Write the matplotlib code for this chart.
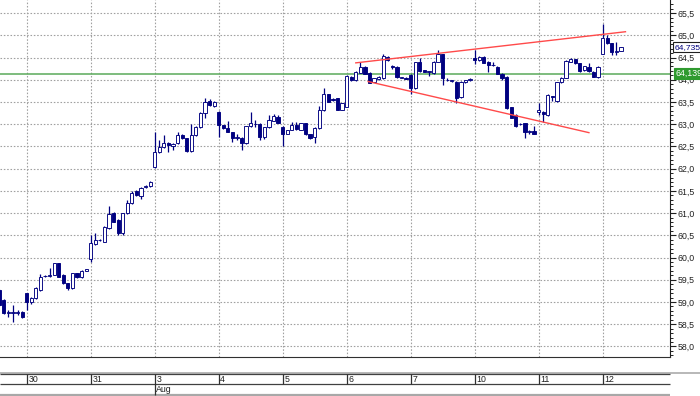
import numpy as np
import matplotlib
matplotlib.use("Agg")
import matplotlib.pyplot as plt
from matplotlib.ticker import MultipleLocator, FuncFormatter

# 30-minute bars, one list per day (29 Jul partial ... 12 Aug partial)
days = ['29', '30', '31', '3', '4', '5', '6', '7', '10', '11', '12']
month_start = {'3': 'Aug'}

opens = [
    [59.27, 59.05, 58.75, 58.76, 58.75, 58.78],
    [59.20, 59.01, 59.08, 59.27, 59.58, 59.59, 59.61, 59.87, 59.61, 59.42, 59.31, 59.65, 59.57, 59.70],
    [59.97, 60.31, 60.39, 60.36, 60.66, 61.00, 60.85, 60.55, 61.00, 61.22, 61.50, 61.39, 61.59, 61.60],
    [62.04, 62.38, 62.48, 62.57, 62.52, 62.57, 62.76, 62.68, 62.40, 62.76, 62.94, 63.26, 63.52, 63.41],
    [63.28, 62.98, 62.91, 62.82, 62.70, 62.70, 62.57, 62.96, 63.00, 63.00, 62.72, 62.93, 63.08, 63.17],
    [62.94, 62.79, 62.88, 62.98, 62.88, 63.02, 62.78, 62.72, 62.92, 63.32, 63.68, 63.57, 63.58, 63.33],
    [63.39, 64.07, 63.99, 64.16, 64.29, 64.16, 63.96, 64.02, 64.03, 64.52, 64.30, 64.29, 64.05, 64.05],
    [64.11, 63.81, 64.39, 64.22, 64.18, 64.16, 64.41, 64.58, 64.00, 63.98, 63.96, 63.62, 63.94, 63.99],
    [64.48, 64.44, 64.52, 64.41, 64.33, 64.29, 64.14, 64.07, 63.38, 63.21, 63.00, 63.02, 62.83, 62.85],
    [63.28, 63.28, 63.21, 63.63, 63.53, 63.94, 64.05, 64.41, 64.46, 64.37, 64.22, 64.28, 64.18, 64.07],
    [64.59, 64.93, 64.82, 64.63, 64.65],
]
highs = [
    [59.30, 59.07, 58.83, 58.93, 58.83, 58.79],
    [59.21, 59.12, 59.33, 59.62, 59.61, 59.76, 59.88, 59.88, 59.62, 59.43, 59.66, 59.66, 59.72, 59.75],
    [60.51, 60.55, 60.42, 60.70, 61.15, 61.02, 60.86, 61.01, 61.30, 61.49, 61.51, 61.58, 61.64, 61.72],
    [62.83, 62.65, 62.76, 62.59, 62.58, 62.83, 62.78, 62.70, 63.00, 62.96, 63.28, 63.60, 63.56, 63.52],
    [63.30, 62.99, 63.08, 62.83, 62.79, 62.71, 62.97, 63.28, 63.09, 63.02, 62.94, 63.21, 63.24, 63.21],
    [62.96, 62.88, 63.05, 63.06, 63.03, 63.03, 62.79, 62.93, 63.41, 63.81, 63.69, 63.58, 63.59, 63.48],
    [64.10, 64.08, 64.19, 64.41, 64.31, 64.17, 64.05, 64.08, 64.58, 64.53, 64.34, 64.31, 64.07, 64.06],
    [64.12, 64.40, 64.48, 64.23, 64.20, 64.42, 64.68, 64.59, 64.03, 64.00, 63.97, 63.97, 64.00, 64.03],
    [64.68, 64.53, 64.53, 64.42, 64.41, 64.31, 64.16, 64.08, 63.39, 63.22, 63.02, 63.03, 62.88, 62.96],
    [63.47, 63.29, 63.67, 63.64, 63.95, 64.07, 64.44, 64.50, 64.47, 64.38, 64.32, 64.38, 64.19, 64.30],
    [65.25, 65.01, 64.83, 64.86, 64.74],
]
lows = [
    [58.90, 58.72, 58.67, 58.56, 58.71, 58.65],
    [58.81, 58.95, 59.06, 59.25, 59.56, 59.57, 59.60, 59.56, 59.40, 59.28, 59.29, 59.55, 59.55, 59.69],
    [59.91, 60.29, 60.37, 60.34, 60.64, 60.79, 60.50, 60.50, 60.98, 61.20, 61.39, 61.31, 61.56, 61.58],
    [62.02, 62.36, 62.46, 62.38, 62.42, 62.55, 62.66, 62.38, 62.38, 62.74, 62.92, 63.13, 63.41, 63.39],
    [62.72, 62.89, 62.82, 62.61, 62.64, 62.43, 62.55, 62.94, 62.93, 62.64, 62.66, 62.92, 63.07, 63.02],
    [62.52, 62.78, 62.87, 62.88, 62.87, 62.76, 62.66, 62.57, 62.90, 63.30, 63.49, 63.53, 63.32, 63.32],
    [63.38, 63.98, 63.98, 64.15, 64.12, 63.92, 63.94, 64.00, 64.02, 64.43, 64.25, 64.05, 64.03, 64.01],
    [63.69, 63.79, 64.18, 64.17, 64.09, 64.14, 64.39, 63.88, 63.97, 63.95, 63.48, 63.60, 63.93, 63.98],
    [64.35, 64.43, 64.37, 64.18, 64.31, 64.13, 64.00, 63.34, 63.14, 62.94, 62.98, 62.70, 62.78, 62.78],
    [63.21, 63.06, 63.19, 63.53, 63.51, 63.93, 64.04, 64.39, 64.35, 64.18, 64.20, 64.18, 64.06, 64.05],
    [64.58, 64.80, 64.56, 64.56, 64.64],
]
closes = [
    [58.93, 58.75, 58.78, 58.76, 58.78, 58.67],
    [59.01, 59.10, 59.31, 59.57, 59.59, 59.61, 59.87, 59.57, 59.42, 59.31, 59.65, 59.57, 59.70, 59.74],
    [60.32, 60.40, 60.40, 60.68, 60.97, 60.81, 60.55, 61.00, 61.22, 61.46, 61.41, 61.56, 61.60, 61.71],
    [62.38, 62.48, 62.58, 62.53, 62.56, 62.76, 62.68, 62.40, 62.76, 62.94, 63.26, 63.51, 63.43, 63.51],
    [62.98, 62.91, 62.83, 62.70, 62.71, 62.58, 62.96, 63.02, 63.01, 62.72, 62.93, 63.09, 63.18, 63.03],
    [62.79, 62.87, 62.98, 62.89, 63.02, 62.78, 62.70, 62.92, 63.32, 63.68, 63.51, 63.54, 63.33, 63.47],
    [64.08, 63.99, 64.17, 64.29, 64.13, 63.93, 64.03, 64.07, 64.53, 64.44, 64.29, 64.07, 64.05, 64.02],
    [63.81, 64.39, 64.20, 64.18, 64.18, 64.41, 64.58, 64.03, 63.99, 63.98, 63.60, 63.96, 63.99, 64.02],
    [64.44, 64.52, 64.38, 64.33, 64.33, 64.14, 64.03, 63.36, 63.15, 62.96, 63.00, 62.83, 62.83, 62.79],
    [63.32, 63.24, 63.66, 63.62, 63.94, 64.05, 64.42, 64.46, 64.37, 64.20, 64.31, 64.20, 64.07, 64.29],
    [64.95, 64.82, 64.63, 64.63, 64.735],
]

last_price = 64.735
level_price = 64.139
# trendlines as (bar index, price) pairs
upper_line = [(78.0, 64.38), (137.0, 65.08)]
lower_line = [(80.7, 63.96), (129.0, 62.81)]

o = np.concatenate(opens)
h = np.concatenate(highs)
l = np.concatenate(lows)
c = np.concatenate(closes)
x = np.arange(len(o))
bars_per_day = [len(d) for d in opens]
day_start = np.cumsum([0] + bars_per_day[:-1])

navy = '#000080'
W, H = 700, 396
fig = plt.figure(figsize=(W / 100, H / 100), dpi=100)
plt.rcParams['font.family'] = ['Liberation Sans', 'DejaVu Sans']

ax = fig.add_axes([0, 1 - 357 / H, 670 / W, 357 / H])
x_left, x_right = 0.16, 146.74
ax.set_xlim(x_left, x_right)
ax.set_ylim(57.763, 65.794)

# grid
for yv in np.arange(58.0, 65.51, 0.5):
    ax.axhline(yv, color='#a0a0a0', lw=0.8, ls=(0, (1.4, 1.6)), zorder=0)
for ds in day_start[1:]:
    ax.axvline(ds, color='#a0a0a0', lw=0.8, ls=(0, (1.4, 1.6)), zorder=0)

# candles
up = c >= o
ax.vlines(x, l, h, color=navy, lw=0.9, zorder=2)
body_lo = np.minimum(o, c)
body_h = np.maximum(np.abs(c - o), 0.012)
ax.bar(x[up], body_h[up], bottom=body_lo[up], width=0.7,
       facecolor='white', edgecolor=navy, lw=0.65, zorder=3)
ax.bar(x[~up], body_h[~up], bottom=body_lo[~up], width=0.7,
       facecolor=navy, edgecolor=navy, lw=0.65, zorder=3)

# lines
ax.axhline(level_price, color='#5aaa5a', lw=1.1, zorder=1)
for pts in (upper_line, lower_line):
    xs, ys = zip(*pts)
    ax.plot(xs, ys, color='#ff4a4a', lw=1.0, zorder=4)

# right axis
for s in ('top', 'left'):
    ax.spines[s].set_visible(False)
ax.spines['right'].set_color('#202020')
ax.spines['bottom'].set_color('#303030')
ax.xaxis.set_visible(False)
ax.yaxis.tick_right()
ax.yaxis.set_major_locator(MultipleLocator(0.5))
ax.yaxis.set_minor_locator(MultipleLocator(0.1))
ax.yaxis.set_major_formatter(FuncFormatter(lambda v, p: f"{v:.1f}".replace('.', ',')))
ax.tick_params(axis='y', which='major', length=4, width=0.8, pad=1.5,
               labelsize=6.3, colors='#202020')
ax.tick_params(axis='y', which='minor', length=2.5, width=0.7, colors='#202020')
ax.tick_params(axis='y', which='both', direction='out')

# price boxes
ax.annotate(f"{last_price:.3f}".replace('.', ','), xy=(1, last_price),
            xycoords=('axes fraction', 'data'), xytext=(5, 0),
            textcoords='offset pixels', va='center', ha='left', fontsize=6.1,
            color=navy, bbox=dict(boxstyle='square,pad=0.2', fc='white',
                                  ec='#202020', lw=0.8), zorder=6,
            annotation_clip=False)
ax.annotate(f"{level_price:.3f}".replace('.', ','), xy=(1, level_price),
            xycoords=('axes fraction', 'data'), xytext=(5, 0),
            textcoords='offset pixels', va='center', ha='left', fontsize=6.3,
            color='white', bbox=dict(boxstyle='square,pad=0.12', fc='#2f9a2f',
                                     ec='#2f9a2f', lw=0.8), zorder=6,
            annotation_clip=False)

# date band
axd = fig.add_axes([0, 0, 1, 24 / H])
axd.set_xlim(x_left, x_left + (x_right - x_left) * W / 670)
axd.set_ylim(0, 24)
axd.axis('off')
axd.axhline(23.3, color='#b8b8b8', lw=1.4)
axd.hlines([21.6, 12.0], x_left, x_right, color='#404040', lw=0.9)
axd.hlines(0.8, x_left, x_right, color='#a8a8a8', lw=1.6)
for ds, name in zip(day_start, days):
    if ds == 0:
        continue
    bottom = 0.8 if name in month_start else 12.0
    axd.vlines(ds, bottom, 21.6, color='#303030', lw=0.9)
    axd.text(ds + 0.35, 16.8, name, fontsize=6.3, va='center', ha='left',
             color='#202020')
    if name in month_start:
        axd.text(ds + 0.35, 6.2, month_start[name], fontsize=6.3, va='center',
                 ha='left', color='#202020')

fig.savefig('out.png', dpi=100)
